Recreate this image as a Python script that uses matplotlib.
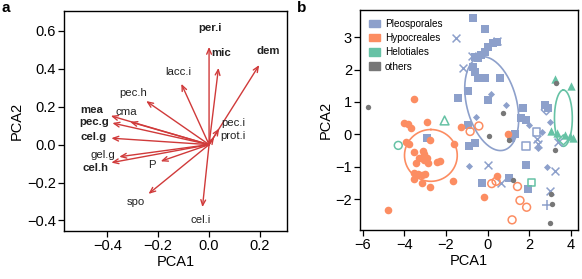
import numpy as np
import matplotlib.pyplot as plt

plt.rcParams['font.family'] = ['Liberation Sans', 'DejaVu Sans']

# ---- panel a: loadings ----
var_names = ["per.i", "mic", "dem", "lacc.i", "pec.h", "mea", "cma", "pec.g",
             "cel.g", "gel.g", "cel.h", "P", "spo", "cel.i", "pec.i", "prot.i"]
load_x = [0.0, 0.037, 0.197, -0.109, -0.247, -0.386, -0.31, -0.38,
          -0.384, -0.353, -0.384, -0.19, -0.238, -0.026, 0.04, 0.02]
load_y = [0.516, 0.405, 0.42, 0.321, 0.230, 0.152, 0.12, 0.114,
          0.034, -0.064, -0.095, -0.088, -0.26, -0.33, 0.085, 0.04]
lab_x = [0.005, 0.049, 0.233, -0.122, -0.297, -0.462, -0.324, -0.451,
         -0.454, -0.418, -0.445, -0.225, -0.287, -0.033, 0.095, 0.095]
lab_y = [0.617, 0.486, 0.495, 0.382, 0.271, 0.184, 0.17, 0.122,
         0.039, -0.055, -0.121, -0.107, -0.305, -0.398, 0.114, 0.043]
bold_vars = ["per.i", "mic", "dem", "mea", "pec.g", "cel.g", "cel.h"]

# ---- panel b: scores ----
pleo_sq_x = [-0.70, -0.12, 0.46, 0.27, 0.03, -0.12, -0.31, -0.45, -0.60, -0.70, -0.60,
             -0.45, -0.12, 0.60, -0.95, -1.42, 0.01, -0.94, -0.89, -0.60, 1.13, 1.34,
             1.71, 1.61, 1.85, 2.77, 2.91, 1.84, -0.29, 1.05, 1.95, -2.91]
pleo_sq_y = [3.60, 3.26, 2.86, 2.83, 2.70, 2.55, 2.45, 2.36, 2.39, 2.08, 1.93,
             1.74, 1.74, 1.74, 1.35, 1.11, 1.07, 0.29, -0.35, -0.26, -0.10, 0.02,
             0.81, 0.51, 0.45, 0.91, 0.82, -0.96, -1.50, -1.35, -1.70, -0.11]
pleo_x_x = [-1.53, -1.16, -0.74, 0.44, 0.03, 0.65, 2.40, 2.45, 3.39, 3.23, 2.99]
pleo_x_y = [2.99, 2.04, 2.42, 2.88, -0.94, -1.49, -0.15, -0.30, -0.23, -1.14, -1.76]
pleo_plus_x = [2.86]
pleo_plus_y = [-2.19]
pleo_dia_x = [0.15, -0.55, 0.89, 2.0, 3.0, -0.89, 2.85, 2.43, 2.62]
pleo_dia_y = [1.26, 0.54, 0.91, 0.29, 0.39, -0.97, -1.02, -0.41, 0.07]
pleo_osq_x = [1.85, 2.35]
pleo_osq_y = [-0.36, 0.07]
pleo_odia_x = [2.83]
pleo_odia_y = [0.76]

hypo_x = [-3.56, -4.04, -3.85, -3.69, -2.94, -1.29, -3.93, -3.77, -3.52, -3.12, -3.08,
          -3.31, -3.44, -3.04, -2.92, -2.88, -2.79, -2.44, -2.31, -1.64, -3.56, -3.37,
          -3.18, -2.99, -3.16, -3.56, -2.76, -1.67, -4.80, -0.15, 0.44, 1.00]
hypo_y = [1.09, 0.35, 0.33, 0.19, 0.37, 0.24, -0.22, -0.29, -0.55, -0.51, -0.60,
          -0.73, -0.87, -0.79, -0.73, -0.89, -0.17, -0.84, -0.81, -0.29, -1.20, -1.22,
          -1.25, -1.22, -1.49, -1.38, -1.61, -1.45, -2.35, -1.94, -1.28, 0.00]
hypo_open_x = [-0.84, -0.42, 0.20, 0.41, 1.44, 1.56, 1.88, 1.18]
hypo_open_y = [0.09, 0.26, -1.52, -1.45, -1.61, -2.04, -2.25, -2.64]

helo_tri_x = [3.27, 4.02, 3.05, 3.34, 3.73, 3.97, 4.11]
helo_tri_y = [1.72, 1.50, 0.11, 0.05, -0.01, -0.05, -0.11]
helo_otri_x = [-2.07]
helo_otri_y = [0.43]
helo_ocirc_x = [-4.30]
helo_ocirc_y = [-0.34]
helo_osq_x = [2.11]
helo_osq_y = [-1.49]
helo_odia_x = [3.65]
helo_odia_y = [-0.17]

other_x = [-5.74, 0.76, 0.06, 1.05, 1.24, 3.25, 3.07, 3.12, 3.01, 3.30]
other_y = [0.84, 0.67, -0.05, -0.17, -1.41, -0.48, -1.84, -2.15, -2.74, 1.58]

# ellipses: center x, center y, tilt, horizontal half-width, vertical half-height
ell_cx = [0.20, -2.73, 3.65]
ell_cy = [0.95, -0.65, 0.50]
ell_tilt = [-0.42, 0.0, 0.0]
ell_w = [1.23, 1.27, 0.43]
ell_h = [1.45, 0.80, 0.87]

groups = ["Pleosporales", "Hypocreales", "Helotiales", "others"]
blue, orange, green, grey = "#8DA0CB", "#FC8D62", "#66C2A5", "#777777"
group_cols = [blue, orange, green, grey]
red = "#D03A3A"

fig = plt.figure(figsize=(5.82, 2.79), dpi=100)
axa = fig.add_axes([0.110, 0.172, 0.383, 0.789])
axb = fig.add_axes([0.619, 0.176, 0.374, 0.788])

# panel a
for i, name in enumerate(var_names):
    axa.annotate("", xy=(load_x[i], load_y[i]), xytext=(0, 0),
                 arrowprops=dict(arrowstyle="->,head_length=0.4,head_width=0.17",
                                 color=red, lw=1.0, shrinkA=0, shrinkB=0))
    axa.text(lab_x[i], lab_y[i], name, ha="center", va="center", fontsize=8.2,
             fontweight="bold" if name in bold_vars else "normal", color="#222222")
axa.set_xlim(-0.57, 0.306)
axa.set_ylim(-0.456, 0.706)
axa.set_xticks([-0.4, -0.2, 0.0, 0.2])
axa.set_yticks([-0.4, -0.2, 0.0, 0.2, 0.4, 0.6])
axa.set_xticklabels(["−0.4", "−0.2", "0.0", "0.2"])
axa.set_yticklabels(["−0.4", "−0.2", "0.0", "0.2", "0.4", "0.6"])
axa.set_xlabel("PCA1", fontsize=10.5, labelpad=1)
axa.set_ylabel("PCA2", fontsize=10.5, labelpad=2)

# panel b
t = np.linspace(0, 2 * np.pi, 200)
for i in range(3):
    ex = ell_cx[i] + ell_tilt[i] * np.cos(t) + ell_w[i] * np.sin(t)
    ey = ell_cy[i] + ell_h[i] * np.cos(t)
    axb.plot(ex, ey, color=group_cols[i], lw=1.2, zorder=1)

axb.scatter(pleo_sq_x, pleo_sq_y, marker="s", s=26, color=blue, lw=0, zorder=2)
axb.scatter(pleo_x_x, pleo_x_y, marker="x", s=32, color=blue, lw=1.1, zorder=2)
axb.scatter(pleo_plus_x, pleo_plus_y, marker="+", s=50, color=blue, lw=1.1, zorder=2)
axb.scatter(pleo_dia_x, pleo_dia_y, marker="D", s=13, color=blue, lw=0, zorder=2)
axb.scatter(pleo_osq_x, pleo_osq_y, marker="s", s=30, facecolor="none", edgecolor=blue, lw=1.1, zorder=2)
axb.scatter(pleo_odia_x, pleo_odia_y, marker="D", s=26, facecolor="none", edgecolor=blue, lw=1.1, zorder=2)
axb.scatter(hypo_x, hypo_y, marker="o", s=30, color=orange, lw=0, zorder=2)
axb.scatter(hypo_open_x, hypo_open_y, marker="o", s=32, facecolor="none", edgecolor=orange, lw=1.1, zorder=2)
axb.scatter(helo_tri_x, helo_tri_y, marker="^", s=36, color=green, lw=0, zorder=2)
axb.scatter(helo_otri_x, helo_otri_y, marker="^", s=40, facecolor="none", edgecolor=green, lw=1.1, zorder=2)
axb.scatter(helo_ocirc_x, helo_ocirc_y, marker="o", s=32, facecolor="none", edgecolor=green, lw=1.1, zorder=2)
axb.scatter(helo_osq_x, helo_osq_y, marker="s", s=30, facecolor="none", edgecolor=green, lw=1.1, zorder=2)
axb.scatter(helo_odia_x, helo_odia_y, marker="D", s=26, facecolor="none", edgecolor=green, lw=1.1, zorder=2)
axb.scatter(other_x, other_y, marker="o", s=15, color=grey, lw=0, zorder=3)

handles = [plt.Rectangle((0, 0), 1, 1, color=c) for c in group_cols]
axb.legend(handles, groups, loc="upper left", frameon=False, fontsize=7.2,
           handlelength=1.05, handleheight=0.75, handletextpad=0.5,
           labelspacing=0.42, borderaxespad=0.5, borderpad=0.4)
axb.set_xlim(-6.13, 4.35)
axb.set_ylim(-2.95, 3.84)
axb.set_xticks([-6, -4, -2, 0, 2, 4])
axb.set_yticks([-2, -1, 0, 1, 2, 3])
axb.set_xticklabels(["−6", "−4", "−2", "0", "2", "4"])
axb.set_yticklabels(["−2", "−1", "0", "1", "2", "3"])
axb.set_xlabel("PCA1", fontsize=10.5, labelpad=1)
axb.set_ylabel("PCA2", fontsize=10.5, labelpad=2)

for ax in (axa, axb):
    ax.tick_params(labelsize=10.5, length=4, width=0.9, pad=2)
    for sp in ax.spines.values():
        sp.set_linewidth(1.0)

fig.text(0.003, 0.995, "a", fontsize=11, fontweight="bold", va="top")
fig.text(0.511, 0.995, "b", fontsize=11, fontweight="bold", va="top")

fig.savefig("out.png", dpi=100)
